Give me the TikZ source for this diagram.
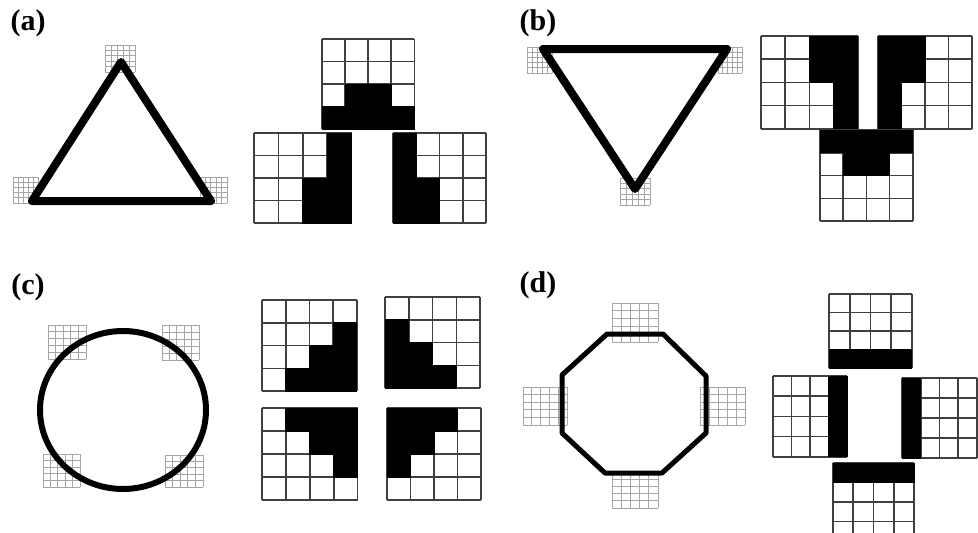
\documentclass[tikz,border=0pt]{standalone}
\usepackage{fontspec}
\setmainfont{Liberation Serif}
\usepackage{tikz}
\usetikzlibrary{calc}
\tikzset{
  panel/.style={font=\bfseries\fontsize{30}{30}\selectfont, inner sep=0pt},
  gridline/.style={draw=black!75, line width=1.7pt},
  ghostline/.style={draw=black!35, line width=0.9pt},
  outline/.style={draw=black, line join=round, fill=none}
}
% #1 left, #2 top, #3 cell width, #4 cell height, #5 black cells col/row
\newcommand{\bitgrid}[5]{%
  \foreach \k in {0,...,4} {
    \draw[gridline] (#1+\k*#3,#2) -- ++(0,4*#4);
    \draw[gridline] (#1,#2+\k*#4) -- ++(4*#3,0);
  }
  \foreach \c/\r in {#5} \filldraw[black, line width=1pt] (#1+\c*#3,#2+\r*#4) rectangle ++(#3,#4);
  }
% #1 left, #2 top, #3 width, #4 height
\newcommand{\ghostgrid}[4]{%
  \foreach \k in {0,...,5} {
    \draw[ghostline] (#1+\k*#3/5,#2) -- ++(0,#4);
    \draw[ghostline] (#1,#2+\k*#4/5) -- ++(#3,0);
  }}

\begin{document}
\begin{tikzpicture}[x=1pt,y=-1pt]
\useasboundingbox (0,0) rectangle (978,533);
\clip (0,0) rectangle (978,533);

\node[panel] (la) at (28,23) {(a)};
\node[panel] (lb) at (538,23) {(b)};
\node[panel] (lc) at (28,287) {(c)};
\node[panel] (ld) at (538,285) {(d)};

% (a)
\ghostgrid{105}{45}{30}{27}
\ghostgrid{13}{177}{25}{26}
\ghostgrid{200}{177}{27}{26}
\coordinate (at) at (121,62);
\coordinate (al) at (32,201);
\coordinate (ar) at (211,201);
\draw[outline, line width=8pt] (at) -- (al) -- (ar) -- cycle;
\bitgrid{322}{39}{23.1}{22.5}{1/2,2/2,0/3,1/3,2/3,3/3}
\bitgrid{254}{133}{24.4}{22.5}{3/0,3/1,3/2,3/3,2/2,2/3}
\bitgrid{393}{133}{23.3}{22.5}{0/0,0/1,0/2,0/3,1/2,1/3}

% (b)
\ghostgrid{527}{47}{25}{26}
\ghostgrid{718}{47}{24}{26}
\ghostgrid{620}{178}{30}{27}
\coordinate (bl) at (543,49);
\coordinate (br) at (727,49);
\coordinate (bb) at (635,189);
\draw[outline, line width=8pt] (bl) -- (br) -- (bb) -- cycle;
\bitgrid{761}{36}{24.2}{23.2}{2/0,2/1,3/0,3/1,3/2,3/3}
\bitgrid{878}{36}{23.5}{23.2}{0/0,0/1,0/2,0/3,1/0,1/1}
\bitgrid{820}{130}{23.2}{22.8}{0/0,1/0,2/0,3/0,1/1,2/1}

% (c)
\ghostgrid{48}{325}{38}{34}
\ghostgrid{162}{325}{37}{35}
\ghostgrid{43}{454}{37}{33}
\ghostgrid{165}{455}{38}{32}
\coordinate (cc) at (123,410);
\draw[outline, line width=6pt] (cc) ellipse [x radius=83, y radius=79];
\bitgrid{262}{300}{23.7}{22.8}{3/1,2/2,3/2,1/3,2/3,3/3}
\bitgrid{385}{297}{23.8}{22.8}{0/1,0/2,1/2,0/3,1/3,2/3}
\bitgrid{262}{408}{23.9}{23}{1/0,2/0,3/0,2/1,3/1,3/2}
\bitgrid{387}{408}{23.5}{23}{0/0,1/0,2/0,0/1,1/1,0/2}

% (d)
\ghostgrid{612}{303}{46}{39}
\ghostgrid{523}{387}{44}{38}
\ghostgrid{700}{387}{45}{38}
\ghostgrid{612}{472}{46}{36}
\draw[outline, line width=5pt] (607,334) -- (663,334) -- (706,376) -- (706,433)
  -- (662,473) -- (605,473) -- (562,433) -- (562,375) -- cycle;
\bitgrid{829}{294}{20.7}{18.5}{0/3,1/3,2/3,3/3}
\bitgrid{773}{376}{18.5}{20.2}{3/0,3/1,3/2,3/3}
\bitgrid{902}{378}{18.75}{20}{0/0,0/1,0/2,0/3}
\bitgrid{833}{463}{20.3}{19.5}{0/0,1/0,2/0,3/0}
\end{tikzpicture}
\end{document}
